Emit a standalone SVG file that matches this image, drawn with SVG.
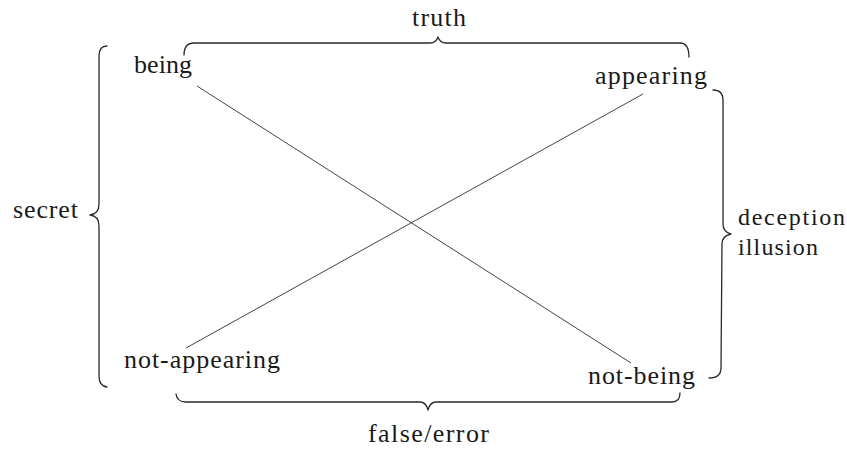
<svg xmlns="http://www.w3.org/2000/svg" width="847" height="457" viewBox="0 0 847 457">
<style>
.t{font-family:"Liberation Serif",serif;font-size:26px;fill:#1a1a1a}
.s{font-size:24px}
.br{fill:none;stroke:#2a2a2a;stroke-width:1.3;stroke-linecap:round;stroke-linejoin:round}
.ln{fill:none;stroke:#444;stroke-width:1}
</style>
<rect width="847" height="457" fill="#fff"/>
<g id="connectors">
<line class="ln" x1="197" y1="86" x2="631" y2="363"/>
<line class="ln" x1="643" y1="94" x2="186" y2="348"/>
</g>
<g id="brace-truth">
<path class="br" d="M184,55 Q184,43 194,43 L430,43 Q436,43 438,37 Q440,43 446,43 L680,43 Q689,43 689,57"/>
<text class="t" x="412" y="26" textLength="54">truth</text>
</g>
<g id="brace-secret">
<path class="br" d="M107,46 Q99,46 99,56 L99,204 Q99,214 90,215 Q99,216 99,226 L99,376 Q99,386 107,387"/>
<text class="t" x="13" y="218" textLength="65">secret</text>
</g>
<g id="brace-deception">
<path class="br" d="M713,90 Q723,90 723,100 L723,224 Q723,232 731,234 Q722,236 722,244 L721,368 Q721,378 709,378"/>
<text class="t s" x="738" y="225" textLength="107">deception</text>
<text class="t s" x="738" y="255" textLength="80">illusion</text>
</g>
<g id="brace-false">
<path class="br" d="M176,394 Q177,402 186,402 L420,402 Q426,402 428,410 Q430,402 436,402 L672,402 Q680,402 680,393"/>
<text class="t" x="368" y="442" textLength="121">false/error</text>
</g>
<g id="node-being"><text class="t" x="134" y="73" textLength="58">being</text></g>
<g id="node-appearing"><text class="t" x="595" y="84" textLength="112">appearing</text></g>
<g id="node-not-appearing"><text class="t" x="124" y="368" textLength="156">not-appearing</text></g>
<g id="node-not-being"><text class="t" x="588" y="384" textLength="107">not-being</text></g>
</svg>
